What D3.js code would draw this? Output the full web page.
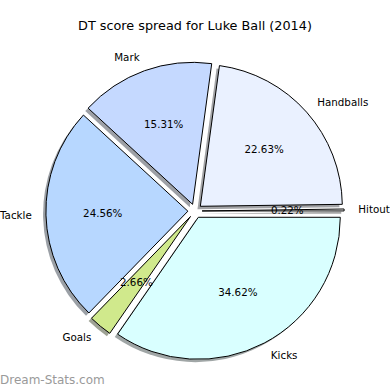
<!DOCTYPE html>
<html>
<head>
<meta charset="utf-8">
<script src="https://cdn.jsdelivr.net/npm/d3@7"></script>
<style>
  body { margin: 0; background: #fff; }
  text { font-family: "DejaVu Sans", sans-serif; }
</style>
</head>
<body>
<div id="chart"></div>
<script>
// data
const categories = ["Hitout", "Handballs", "Mark", "Tackle", "Goals", "Kicks"];
const shares = [0.22, 22.63, 15.31, 24.56, 2.66, 34.62];
const colours = ["#ffffff", "#eaf1ff", "#c5d9ff", "#b7d7ff", "#d0e98c", "#d9ffff"];

const W = 390, H = 390;
const cx = 195, cy = 211;
const explode = 0.05;

// data units (pie radius 1) -> pixels
const r = d3.scaleLinear().domain([0, 1]).range([0, 142]);

const svg = d3.select("#chart")
  .append("svg")
    .attr("width", W)
    .attr("height", H);

svg.append("rect").attr("width", W).attr("height", H).attr("fill", "#fff");

// matplotlib style: start at 3 o'clock, go counter-clockwise
const pie = d3.pie().sort(null)
  .startAngle(Math.PI / 2)
  .endAngle(Math.PI / 2 - 2 * Math.PI);

const arcs = pie(shares).map((d, i) => {
  d.name = categories[i];
  d.colour = colours[i];
  d.mid = (d.startAngle + d.endAngle) / 2;
  d.dx = Math.sin(d.mid);
  d.dy = -Math.cos(d.mid);
  return d;
});

const arc = d3.arc().innerRadius(0).outerRadius(r(1));

function shift(d, k) {
  return [cx + r(k) * d.dx, cy + r(k) * d.dy];
}

// shadows first, all behind the wedges
svg.append("g")
  .selectAll("path")
  .data(arcs)
  .enter()
  .append("path")
    .attr("d", arc)
    .attr("transform", d => {
      const p = shift(d, explode);
      return `translate(${p[0] - r(0.02)},${p[1] + r(0.02)})`;
    })
    .attr("fill", d => {
      const c = d3.rgb(d.colour);
      return d3.rgb(c.r * 0.3, c.g * 0.3, c.b * 0.3);
    })
    .attr("opacity", 0.5);

svg.append("g")
  .selectAll("path")
  .data(arcs)
  .enter()
  .append("path")
    .attr("d", arc)
    .attr("transform", d => `translate(${shift(d, explode)})`)
    .attr("fill", d => d.colour)
    .attr("stroke", "#000")
    .attr("stroke-width", 1)
    .attr("stroke-linejoin", "round");

// category labels at 1.1 radius
svg.append("g")
  .selectAll("text")
  .data(arcs)
  .enter()
  .append("text")
    .attr("x", d => shift(d, explode + 1.1)[0])
    .attr("y", d => shift(d, explode + 1.1)[1])
    .attr("dy", "0.35em")
    .attr("text-anchor", d => d.dx > 0 ? "start" : "end")
    .style("font-size", "10.3px")
    .text(d => d.name);

// percentages at 0.6 radius
svg.append("g")
  .selectAll("text")
  .data(arcs)
  .enter()
  .append("text")
    .attr("x", d => shift(d, explode + 0.6)[0])
    .attr("y", d => shift(d, explode + 0.6)[1])
    .attr("dy", "0.35em")
    .attr("text-anchor", "middle")
    .style("font-size", "10.3px")
    .text(d => d.value.toFixed(2) + "%");

svg.append("text")
  .attr("x", W / 2)
  .attr("y", 30)
  .attr("text-anchor", "middle")
  .style("font-size", "12.8px")
  .text("DT score spread for Luke Ball (2014)");

svg.append("text")
  .attr("x", 0)
  .attr("y", 384)
  .attr("fill", "#9a9a9a")
  .style("font-size", "12px")
  .text("Dream-Stats.com");
</script>
</body>
</html>
